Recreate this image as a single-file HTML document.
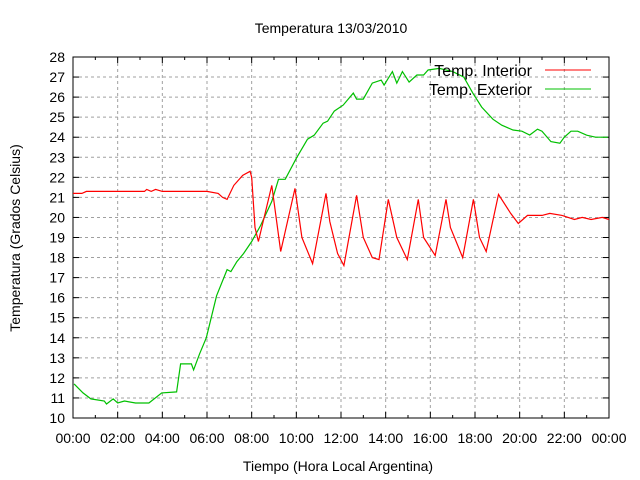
<!DOCTYPE html>
<html><head><meta charset="utf-8"><style>
body{margin:0;background:#fff}
svg{display:block;font-family:"Liberation Sans",sans-serif}
</style></head><body>
<svg id="chart" width="640" height="480">
<text x="331" y="33" text-anchor="middle" font-size="14">Temperatura 13/03/2010</text>
<text x="338" y="471" text-anchor="middle" font-size="14">Tiempo (Hora Local Argentina)</text>
<text transform="translate(20,238) rotate(-90)" text-anchor="middle" font-size="14">Temperatura (Grados Celsius)</text>
<g id="grid"></g><g id="axes"></g><g id="series"></g>
<g>
<text x="532" y="76" text-anchor="end" font-size="16">Temp. Interior</text>
<line x1="545" y1="70" x2="591" y2="70" stroke="#ff0000"/>
<text x="532" y="95" text-anchor="end" font-size="16">Temp. Exterior</text>
<line x1="545" y1="89" x2="591" y2="89" stroke="#00c000"/>
</g>
</svg>
<script>
const yTicks=[10,11,12,13,14,15,16,17,18,19,20,21,22,23,24,25,26,27,28];
const xTickLabels=["00:00","02:00","04:00","06:00","08:00","10:00","12:00","14:00","16:00","18:00","20:00","22:00","00:00"];
const interiorHours=[0,0.4,0.6,3.2,3.3,3.5,3.7,4,6.0,6.5,6.7,6.9,7.2,7.6,7.93,8.0,8.15,8.3,8.9,9.3,9.94,10.25,10.73,11.33,11.5,11.85,12.13,12.7,13.0,13.4,13.7,14.12,14.5,14.97,15.46,15.7,16.22,16.7,16.9,17.45,17.93,18.2,18.5,19.05,19.6,19.94,20.35,21.0,21.35,21.9,22.45,22.8,23.2,23.7,24];
const interiorTemps=[21.2,21.2,21.3,21.3,21.4,21.3,21.4,21.3,21.3,21.2,21.0,20.9,21.6,22.1,22.3,22.0,19.5,18.8,21.6,18.3,21.45,19.0,17.7,21.2,19.8,18.2,17.6,21.1,19.0,18.0,17.9,20.9,19.0,17.9,20.9,19.0,18.1,20.9,19.5,18.0,20.9,19.0,18.3,21.15,20.2,19.7,20.1,20.1,20.2,20.1,19.9,20.0,19.9,20.0,19.9];
const exteriorHours=[0.05,0.45,0.8,1.4,1.5,1.8,2.0,2.3,2.8,3.4,3.97,4.64,4.82,5.3,5.4,5.67,5.97,6.43,6.9,7.07,7.34,7.64,8.0,8.4,8.9,9.2,9.5,10.0,10.5,10.8,11.2,11.4,11.7,12.1,12.55,12.7,13.0,13.4,13.8,13.93,14.3,14.5,14.75,15.05,15.4,15.7,15.9,16.4,17.0,17.5,17.9,18.3,18.8,19.2,19.7,20.1,20.45,20.8,21.0,21.4,21.8,22.0,22.3,22.6,23.0,23.4,23.95];
const exteriorTemps=[11.7,11.25,10.95,10.85,10.7,10.95,10.75,10.85,10.75,10.75,11.25,11.3,12.7,12.7,12.4,13.2,14.0,16.1,17.4,17.3,17.8,18.2,18.8,19.6,20.8,21.9,21.9,22.95,23.9,24.1,24.7,24.8,25.3,25.6,26.2,25.9,25.9,26.7,26.85,26.6,27.27,26.7,27.27,26.75,27.1,27.1,27.35,27.43,27.27,27.0,26.2,25.5,24.9,24.6,24.36,24.3,24.11,24.4,24.3,23.78,23.7,24.0,24.3,24.3,24.1,24.0,24.0];
const X0=73,X1=609,Y0=418,Y1=57;
const xs=h=>X0+(X1-X0)*h/24, ys=t=>Y0-(Y0-Y1)*(t-10)/18;
const NS="http://www.w3.org/2000/svg";
function mk(tag,attrs,parent){const e=document.createElementNS(NS,tag);for(const k in attrs)e.setAttribute(k,attrs[k]);parent.appendChild(e);return e;}
const grid=document.getElementById('grid'),axes=document.getElementById('axes'),ser=document.getElementById('series');
yTicks.forEach(t=>{const y=ys(t);
 if(t>10&&t<28){const g=mk('line',{x1:X0,x2:X1,y1:y,y2:y,stroke:'#a0a0a0','stroke-dasharray':'3,3'},grid);
 
 }
 mk('line',{x1:X0,x2:X0+6,y1:y,y2:y,stroke:'#000'},axes);
 mk('line',{x1:X1-6,x2:X1,y1:y,y2:y,stroke:'#000'},axes);
 const tx=mk('text',{x:X0-8,y:y+5,'text-anchor':'end','font-size':14},axes);tx.textContent=t;
 
 
});
xTickLabels.forEach((l,i)=>{const x=xs(i*2);
 if(i>0&&i<12){const g=mk('line',{x1:x,x2:x,y1:Y1,y2:Y0,stroke:'#a0a0a0','stroke-dasharray':'3,3'},grid);
 
 }
 mk('line',{x1:x,x2:x,y1:Y0,y2:Y0-6,stroke:'#000'},axes);
 mk('line',{x1:x,x2:x,y1:Y1,y2:Y1+6,stroke:'#000'},axes);
 if(i<12){const xm=xs(i*2+1);mk('line',{x1:xm,x2:xm,y1:Y0,y2:Y0-3,stroke:'#000'},axes);mk('line',{x1:xm,x2:xm,y1:Y1,y2:Y1+3,stroke:'#000'},axes);}
 const tx=mk('text',{x:x,y:Y0+25,'text-anchor':'middle','font-size':14},axes);tx.textContent=l;
 
 
});
const frame=mk('rect',{x:X0,y:Y1,width:X1-X0,height:Y0-Y1,fill:'none',stroke:'#000'},axes);


function line(hs,ts,color,name){const p=mk('polyline',{points:hs.map((h,i)=>xs(h).toFixed(1)+','+ys(ts[i]).toFixed(1)).join(' '),fill:'none',stroke:color,'stroke-width':1.2},ser);
 
 }
line(exteriorHours,exteriorTemps,'#00c000','exterior-temp-line');
line(interiorHours,interiorTemps,'#ff0000','interior-temp-line');
</script>
</body></html>
